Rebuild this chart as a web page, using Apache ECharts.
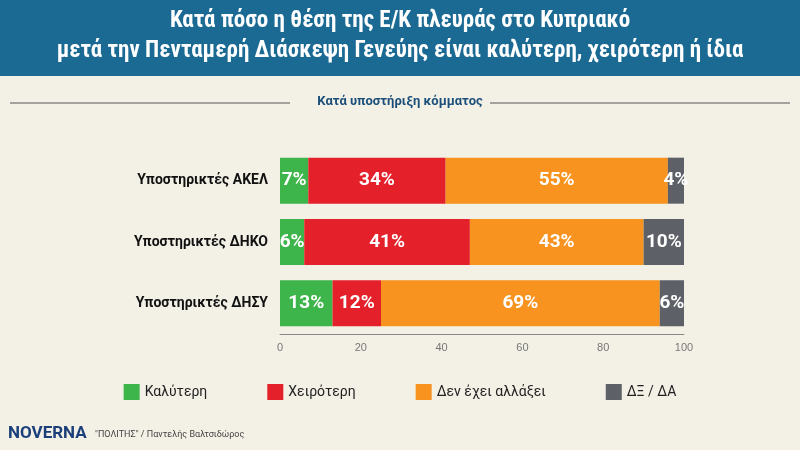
<!DOCTYPE html>
<html><head><meta charset="utf-8">
<script src="https://cdn.jsdelivr.net/npm/echarts@6/dist/echarts.min.js"></script>
<style>body{margin:0}#c{width:800px;height:450px}</style>
</head><body><div id="c"></div>
<script>
var categories = ['Υποστηρικτές ΑΚΕΛ', 'Υποστηρικτές ΔΗΚΟ', 'Υποστηρικτές ΔΗΣΥ'];
var seriesNames = ['Καλύτερη', 'Χειρότερη', 'Δεν έχει αλλάξει', 'ΔΞ / ΔΑ'];
var better = [7, 6, 13];
var worse = [34, 41, 12];
var same = [55, 43, 69];
var dk = [4, 10, 6];
var colors = ['#3db54a', '#e4202a', '#f7931e', '#5d6066'];

var chart = echarts.init(document.getElementById('c'));
var values = [better, worse, same, dk];
var series = values.map(function(v, i) {
    return {
        name: seriesNames[i], type: 'bar', stack: 'a', barWidth: 46,
        data: v, itemStyle: { color: colors[i] },
        label: { show: true, formatter: '{c}%', color: '#fff', fontSize: 19,
            fontWeight: 'bold', fontFamily: 'Roboto' }
    };
});
chart.setOption({
    backgroundColor: '#f3f0e6',
    graphic: [
        { type: 'rect', shape: { x: 0, y: 0, width: 800, height: 76 }, style: { fill: '#1b6a94' } },
        { type: 'text', left: 'center', top: 6, style: { text: 'Κατά πόσο η θέση της Ε/Κ πλευράς στο Κυπριακό\nμετά την Πενταμερή Διάσκεψη Γενεύης είναι καλύτερη, χειρότερη ή ίδια',
            fill: '#fff', font: 'bold 23px "Roboto Condensed", "Liberation Sans Narrow", Roboto', textAlign: 'center', lineHeight: 30 } },
        { type: 'line', shape: { x1: 10, y1: 103, x2: 290, y2: 103 }, style: { stroke: '#555', lineWidth: 1 } },
        { type: 'line', shape: { x1: 490, y1: 103, x2: 790, y2: 103 }, style: { stroke: '#555', lineWidth: 1 } },
        { type: 'text', left: 'center', top: 95, style: { text: 'Κατά υποστήριξη κόμματος', fill: '#1b4f7a',
            font: 'bold 13px "Liberation Sans Narrow", Roboto' } },
        { type: 'text', left: 8, top: 425, style: { text: 'NOVERNA', fill: '#1b3f7a', font: 'bold 17px Roboto' } },
        { type: 'text', left: 95, top: 430, style: { text: '"ΠΟΛΙΤΗΣ" / Παντελής Βαλτσιδώρος', fill: '#444', font: '9px Roboto' } }
    ],
    legend: { bottom: 45, left: 'center', itemGap: 60, itemWidth: 16, itemHeight: 16, icon: 'rect',
        textStyle: { fontSize: 14, color: '#222', fontFamily: 'Roboto' } },
    grid: { left: 280, right: 116, top: 150, height: 184 },
    xAxis: { type: 'value', min: 0, max: 100, interval: 20,
        axisLine: { show: true, lineStyle: { color: '#888' } }, axisTick: { show: false },
        splitLine: { show: false }, axisLabel: { color: '#777', fontSize: 11 } },
    yAxis: { type: 'category', data: categories, inverse: true,
        axisLine: { show: false }, axisTick: { show: false },
        axisLabel: { color: '#111', fontSize: 14, fontWeight: 'bold', fontFamily: 'Roboto', margin: 12 } },
    series: series
});
</script></body></html>
